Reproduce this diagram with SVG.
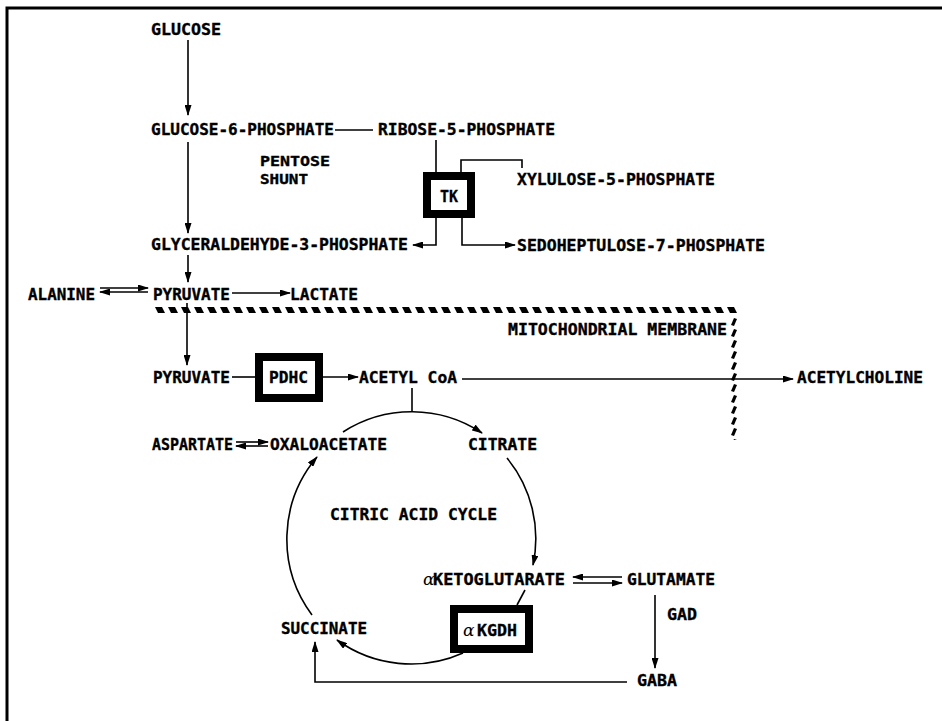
<svg xmlns="http://www.w3.org/2000/svg" width="942" height="721" viewBox="0 0 942 721">
<style>
.t{font-family:"DejaVu Sans Mono","Liberation Mono",monospace;font-weight:bold;font-size:16.3px;fill:#000;stroke:#000;stroke-width:0.35}
.s{font-size:14.5px}
.a{font-family:"DejaVu Serif","Liberation Serif",serif;font-style:italic;font-weight:normal;font-size:17px;stroke:none}
.c{fill:none;stroke:#000;stroke-width:1.6}
.box{fill:#fff;stroke:#000;stroke-width:8}
</style>
<defs>
<marker id="ah" markerUnits="userSpaceOnUse" markerWidth="11" markerHeight="7" refX="10" refY="3.5" orient="auto">
<path d="M0,0 L11,3.5 L0,7 z" fill="#000"/>
</marker>
<pattern id="hatchH" patternUnits="userSpaceOnUse" x="155" y="307" width="13" height="6">
<polygon points="0,0 7,0 10,6 3,6" fill="#000"/>
</pattern>
<pattern id="hatchV" patternUnits="userSpaceOnUse" x="731" y="318" width="6" height="11">
<polygon points="3,0 6,1 3,8 0,7" fill="#000"/>
</pattern>
</defs>
<rect width="942" height="721" fill="#fff"/>
<path d="M7,721 V8 H942" fill="none" stroke="#000" stroke-width="3"/>

<g id="membrane">
<rect x="155" y="307" width="582" height="6" fill="url(#hatchH)"/>
<rect x="731" y="318" width="6" height="122" fill="url(#hatchV)"/>
<text class="t" x="508" y="335" textLength="219" lengthAdjust="spacingAndGlyphs">MITOCHONDRIAL MEMBRANE</text>
</g>

<g id="connectors">
<path class="c" d="M188,40 V115" marker-end="url(#ah)"/>
<path class="c" d="M188,142 V233" marker-end="url(#ah)"/>
<path class="c" d="M335,130 H373"/>
<path class="c" d="M436,140 V173"/>
<path class="c" d="M461,173 V160 H522 V168"/>
<path class="c" d="M436,218 V245 H413" marker-end="url(#ah)"/>
<path class="c" d="M462,218 V245 H515" marker-end="url(#ah)"/>
<path class="c" d="M188,255 V282" marker-end="url(#ah)"/>
<path class="c" d="M100,288 H148" marker-end="url(#ah)"/>
<path class="c" d="M148,292 H100" marker-end="url(#ah)"/>
<path class="c" d="M232,293 H290" marker-end="url(#ah)"/>
<path class="c" d="M187,303 V365" marker-end="url(#ah)"/>
<path class="c" d="M232,377 H255"/>
<path class="c" d="M323,377 H358" marker-end="url(#ah)"/>
<path class="c" d="M462,379 H793" marker-end="url(#ah)"/>
<path class="c" d="M412,388 V412"/>
<path class="c" d="M343,432 A127,127 0 0,1 482,433" marker-end="url(#ah)"/>
<path class="c" d="M236,442 H268" marker-end="url(#ah)"/>
<path class="c" d="M268,446 H236" marker-end="url(#ah)"/>
<path class="c" d="M507,458 A127,127 0 0,1 533,565" marker-end="url(#ah)"/>
<path class="c" d="M622,577 H573" marker-end="url(#ah)"/>
<path class="c" d="M573,583 H622" marker-end="url(#ah)"/>
<path class="c" d="M525,590 L517,605"/>
<path class="c" d="M463,653 A127,127 0 0,1 337,640" marker-end="url(#ah)"/>
<path class="c" d="M312,615 A127,127 0 0,1 317,457" marker-end="url(#ah)"/>
<path class="c" d="M655,595 V668" marker-end="url(#ah)"/>
<path class="c" d="M627,682 H315 V642" marker-end="url(#ah)"/>
</g>

<g id="glucose"><text class="t" x="151" y="35" textLength="70" lengthAdjust="spacingAndGlyphs">GLUCOSE</text></g>
<g id="g6p"><text class="t" x="151" y="135" textLength="183" lengthAdjust="spacingAndGlyphs">GLUCOSE-6-PHOSPHATE</text></g>
<g id="r5p"><text class="t" x="378" y="135" textLength="177" lengthAdjust="spacingAndGlyphs">RIBOSE-5-PHOSPHATE</text></g>
<g id="pentose-shunt"><text class="t s" x="260" y="166" textLength="70" lengthAdjust="spacingAndGlyphs">PENTOSE</text><text class="t s" x="260" y="184" textLength="48" lengthAdjust="spacingAndGlyphs">SHUNT</text></g>
<g id="tk"><rect class="box" x="427" y="176" width="44" height="38"/><text class="t" x="440" y="202" textLength="18" lengthAdjust="spacingAndGlyphs">TK</text></g>
<g id="x5p"><text class="t" x="517" y="185" textLength="198" lengthAdjust="spacingAndGlyphs">XYLULOSE-5-PHOSPHATE</text></g>
<g id="g3p"><text class="t" x="151" y="250" textLength="257" lengthAdjust="spacingAndGlyphs">GLYCERALDEHYDE-3-PHOSPHATE</text></g>
<g id="s7p"><text class="t" x="517" y="251" textLength="248" lengthAdjust="spacingAndGlyphs">SEDOHEPTULOSE-7-PHOSPHATE</text></g>
<g id="alanine"><text class="t" x="28" y="300" textLength="67" lengthAdjust="spacingAndGlyphs">ALANINE</text></g>
<g id="pyruvate-cyto"><text class="t" x="153" y="300" textLength="77" lengthAdjust="spacingAndGlyphs">PYRUVATE</text></g>
<g id="lactate"><text class="t" x="290" y="300" textLength="68" lengthAdjust="spacingAndGlyphs">LACTATE</text></g>
<g id="pyruvate-mito"><text class="t" x="153" y="383" textLength="77" lengthAdjust="spacingAndGlyphs">PYRUVATE</text></g>
<g id="pdhc"><rect class="box" x="259" y="357" width="60" height="41"/><text class="t" x="269" y="383" textLength="39" lengthAdjust="spacingAndGlyphs">PDHC</text></g>
<g id="acetylcoa"><text class="t" x="359" y="383" textLength="98" lengthAdjust="spacingAndGlyphs">ACETYL CoA</text></g>
<g id="acetylcholine"><text class="t" x="797" y="383" textLength="126" lengthAdjust="spacingAndGlyphs">ACETYLCHOLINE</text></g>
<g id="aspartate"><text class="t" x="152" y="450" textLength="81" lengthAdjust="spacingAndGlyphs">ASPARTATE</text></g>
<g id="oxaloacetate"><text class="t" x="270" y="450" textLength="117" lengthAdjust="spacingAndGlyphs">OXALOACETATE</text></g>
<g id="citrate"><text class="t" x="468" y="450" textLength="69" lengthAdjust="spacingAndGlyphs">CITRATE</text></g>
<g id="cycle-label"><text class="t" x="330" y="520" textLength="167" lengthAdjust="spacingAndGlyphs">CITRIC ACID CYCLE</text></g>
<g id="akg"><text class="t" x="423" y="585"><tspan class="a">α</tspan><tspan x="433" textLength="132" lengthAdjust="spacingAndGlyphs">KETOGLUTARATE</tspan></text></g>
<g id="glutamate"><text class="t" x="627" y="585" textLength="88" lengthAdjust="spacingAndGlyphs">GLUTAMATE</text></g>
<g id="gad"><text class="t" x="667" y="620" textLength="30" lengthAdjust="spacingAndGlyphs">GAD</text></g>
<g id="succinate"><text class="t" x="281" y="634" textLength="86" lengthAdjust="spacingAndGlyphs">SUCCINATE</text></g>
<g id="akgdh"><rect class="box" x="454" y="609" width="75" height="40"/><text class="t" x="463" y="636"><tspan class="a">α</tspan><tspan x="477" textLength="40" lengthAdjust="spacingAndGlyphs">KGDH</tspan></text></g>
<g id="gaba"><text class="t" x="637" y="686" textLength="40" lengthAdjust="spacingAndGlyphs">GABA</text></g>
</svg>
